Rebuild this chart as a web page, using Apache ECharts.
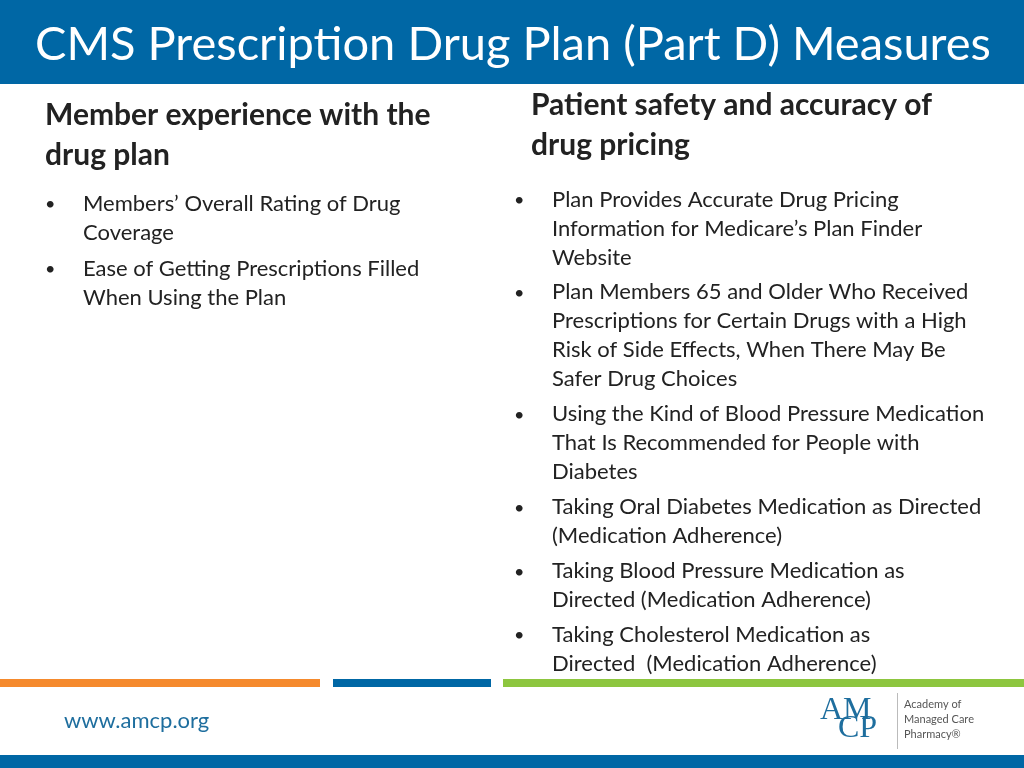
<!DOCTYPE html>
<html><head><meta charset="utf-8">
<script src="https://cdn.jsdelivr.net/npm/echarts@6/dist/echarts.min.js"></script>
<style>html,body{margin:0;padding:0;background:#fff}#c{width:1024px;height:768px}</style>
</head><body><div id="c"></div>
<script>
const titleText = 'CMS Prescription Drug Plan (Part D) Measures';
const leftHeading = ['Member experience with the', 'drug plan'];
const rightHeading = ['Patient safety and accuracy of', 'drug pricing'];
const leftBullets = [
  ['Members’ Overall Rating of Drug', 'Coverage'],
  ['Ease of Getting Prescriptions Filled', 'When Using the Plan']
];
const rightBullets = [
  ['Plan Provides Accurate Drug Pricing', 'Information for Medicare’s Plan Finder', 'Website'],
  ['Plan Members 65 and Older Who Received', 'Prescriptions for Certain Drugs with a High', 'Risk of Side Effects, When There May Be', 'Safer Drug Choices'],
  ['Using the Kind of Blood Pressure Medication', 'That Is Recommended for People with', 'Diabetes'],
  ['Taking Oral Diabetes Medication as Directed', '(Medication Adherence)'],
  ['Taking Blood Pressure Medication as', 'Directed (Medication Adherence)'],
  ['Taking Cholesterol Medication as', 'Directed  (Medication Adherence)']
];
const FONT = 'Lato';
const els = [];
els.push({type:'rect',shape:{x:0,y:0,width:1024,height:84},style:{fill:'#0067A5'}});
els.push({type:'text',x:35,y:45,style:{text:titleText,fill:'#fff',font:'47px '+FONT,textVerticalAlign:'middle'}});
function heading(lines,x,y){
  els.push({type:'text',x:x,y:y,style:{text:lines.join('\n'),fill:'#222',font:'bold 30px '+FONT,lineHeight:40,textVerticalAlign:'top'}});
}
heading(leftHeading,45,95);
heading(rightHeading,531,85);
function bullets(list,bx,tx,y0,gap){
  let y=y0;
  list.forEach(b=>{
    els.push({type:'text',x:bx,y:y+1,style:{text:'•',fill:'#222',font:'18px '+FONT,lineHeight:29,textVerticalAlign:'top'}});
    els.push({type:'text',x:tx,y:y,style:{text:b.join('\n'),fill:'#222',font:'22px '+FONT,lineHeight:29,textVerticalAlign:'top'}});
    y+=b.length*29+gap;
  });
}
bullets(leftBullets,45,83,189,7);
bullets(rightBullets,514,552,185,5.8);
els.push({type:'rect',shape:{x:0,y:679,width:320,height:8},style:{fill:'#F58A2D'}});
els.push({type:'rect',shape:{x:333,y:679,width:158,height:8},style:{fill:'#0067A5'}});
els.push({type:'rect',shape:{x:503,y:679,width:521,height:8},style:{fill:'#8DC63F'}});
els.push({type:'rect',shape:{x:0,y:755,width:1024,height:13},style:{fill:'#0067A5'}});
els.push({type:'text',x:64,y:721,style:{text:'www.amcp.org',fill:'#1E6E9E',font:'22px '+FONT,textVerticalAlign:'middle'}});
els.push({type:'text',x:820,y:711,style:{text:'AM',fill:'#1E6E9E',font:'32px "Liberation Serif"',textVerticalAlign:'middle'}});
els.push({type:'text',x:838,y:729,style:{text:'CP',fill:'#1E6E9E',font:'32px "Liberation Serif"',textVerticalAlign:'middle'}});
els.push({type:'rect',shape:{x:897,y:693,width:1,height:56},style:{fill:'#bbb'}});
els.push({type:'text',x:904,y:697,style:{text:'Academy of\nManaged Care\nPharmacy®',fill:'#555',font:'11px '+FONT,lineHeight:15,textVerticalAlign:'top'}});
const chart = echarts.init(document.getElementById('c'));
chart.setOption({graphic:{elements:els}});
</script></body></html>
